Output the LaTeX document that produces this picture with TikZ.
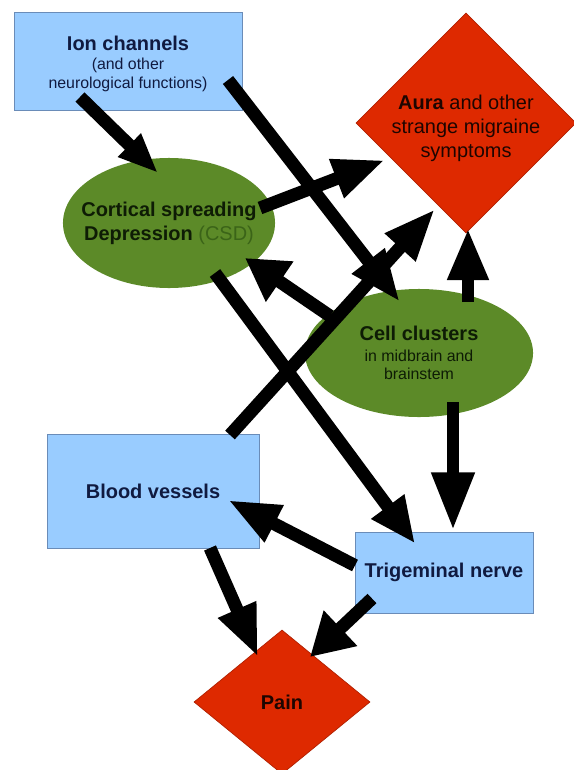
\documentclass[tikz,border=0pt]{standalone}
\usepackage{fontspec}
\setmainfont{Liberation Sans}
\usetikzlibrary{shapes.geometric,arrows.meta}

\definecolor{boxblue}{HTML}{99CCFF}
\definecolor{boxedge}{HTML}{6A8CB8}
\definecolor{boxink}{HTML}{101A40}
\definecolor{blobgreen}{HTML}{5C8A28}
\definecolor{blobink}{HTML}{0E1C05}
\definecolor{csdink}{HTML}{3B6418}
\definecolor{gemred}{HTML}{DE2900}
\definecolor{gemedge}{HTML}{B02000}
\definecolor{gemink}{HTML}{1E0500}

\newcommand{\bigtxt}{\fontsize{14.2}{17}\selectfont}
\newcommand{\smalltxt}{\fontsize{11.3}{12.5}\selectfont\mdseries}

\begin{document}
\begin{tikzpicture}[x=0.025cm,y=-0.025cm,
  box/.style={draw=boxedge, line width=0.6pt, fill=boxblue, rectangle, inner sep=0pt, text=boxink, align=center, font=\bigtxt\bfseries},
  blob/.style={fill=blobgreen, ellipse, inner sep=0pt},
  gem/.style={draw=gemedge, line width=0.5pt, fill=gemred, diamond, inner sep=0pt},
  blobtext/.style={text=blobink, align=center, font=\bigtxt\bfseries, inner sep=0pt},
  gemtext/.style={text=gemink, align=center, font=\bigtxt, inner sep=0pt},
  flow/.style={line width=9.2pt, -{Triangle[length=1.3cm,width=0.95cm]}},
  stub/.style={-{Triangle[length=1.05cm,width=1.15cm]}}]
\useasboundingbox (0,0) rectangle (573,770);

\node[box, minimum width=5.7cm, minimum height=2.45cm, label={[box, draw=none, fill=none, yshift=-2pt]center:{Ion channels\\[-3.5pt]\smalltxt (and other\\[-4pt]\smalltxt neurological functions)}}] (ion) at (128,61) {};
\node[gem, minimum width=5.5cm, minimum height=5.5cm, label={[gemtext, yshift=-4pt]center:{\textbf{Aura} and other\\strange migraine\\symptoms}}] (aura) at (466,123) {};
\node[blob, minimum width=5.3cm, minimum height=3.25cm, label={[blobtext]center:{Cortical spreading\\Depression {\mdseries\color{csdink}(CSD)}}}] (csd) at (169,223) {};
\node[blob, minimum width=5.7cm, minimum height=3.2cm, label={[blobtext]center:{Cell clusters\\[-2pt]\smalltxt in midbrain and\\[-4.5pt]\smalltxt brainstem}}] (cell) at (419,353) {};
\node[box, minimum width=5.3cm, minimum height=2.85cm] (blood) at (153,491) {Blood vessels};
\node[box, minimum width=4.45cm, minimum height=2.025cm] (trig) at (444,572.5) {Trigeminal nerve};
\node[gem, minimum width=4.4cm, minimum height=3.6cm, label={[gemtext, font=\bigtxt\bfseries]center:{Pain}}] (pain) at (282,702) {};

\draw[flow, -{Triangle[length=1cm,width=0.75cm]}] ([shift={(-48,36)}]ion.center) -- ([shift={(-11,-50)}]csd.center);
\draw[flow] ([shift={(100,19)}]ion.center) -- ([shift={(-19,-51)}]cell.center);
\draw[flow] ([shift={(91,-15)}]csd.center) -- ([shift={(-81,37)}]aura.center);
\draw[flow, stub] ([shift={(-89,-37)}]cell.center) -- ([shift={(76,35)}]csd.center);
\draw[flow] ([shift={(49,-51)}]cell.center) -- ([shift={(2,105)}]aura.center);
\draw[flow] ([shift={(77,-56)}]blood.center) -- ([shift={(-31,86)}]aura.center);
\draw[flow, -{Triangle[length=1.15cm,width=0.95cm]}] ([shift={(46,50)}]csd.center) -- ([shift={(-29,-29)}]trig.center);
\draw[flow, -{Triangle[length=1.45cm,width=1cm]}] ([shift={(34,49)}]cell.center) -- ([shift={(9,-42)}]trig.center);
\draw[flow] ([shift={(-89,-7)}]trig.center) -- ([shift={(75,9)}]blood.center);
\draw[flow] ([shift={(57,57)}]blood.center) -- ([shift={(-24,-45)}]pain.center);
\draw[flow, stub] ([shift={(-72,26)}]trig.center) -- ([shift={(28,-45)}]pain.center);
\end{tikzpicture}
\end{document}
